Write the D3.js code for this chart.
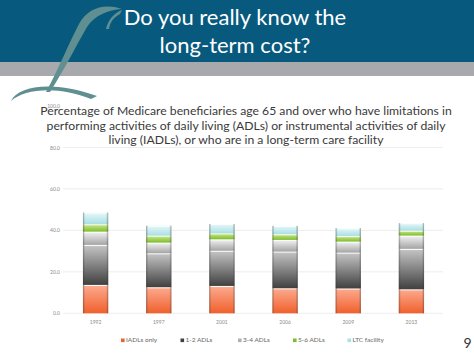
<!DOCTYPE html>
<html><head><meta charset="utf-8">
<script src="https://cdnjs.cloudflare.com/ajax/libs/d3/7.8.5/d3.min.js"></script>
<style>html,body{margin:0;padding:0;background:#fff;overflow:hidden}svg{display:block}</style>
</head><body>
<script>
const years = ["1992","1997","2001","2006","2009","2013"];
const seriesNames = ["IADLs only","1-2 ADLs","3-4 ADLs","5-6 ADLs","LTC facility"];
const iadlsOnly = [13.7,12.6,13.2,12.1,12.0,11.6];
const adl12 = [19.3,16.4,17.0,17.7,17.3,19.5];
const adl34 = [6.4,5.1,5.5,5.6,5.3,6.4];
const adl56 = [3.6,3.4,2.9,2.8,2.7,2.4];
const ltc = [5.6,4.8,4.5,4.0,3.8,3.6];
const yTicks = [0,20,40,60,80,100];
const titleLines = ["Do you really know the","long-term cost?"];
const subtitleLines = ["Percentage of Medicare beneficiaries age 65 and over who have limitations in",
  "performing activities of daily living (ADLs) or instrumental activities of daily",
  "living (IADLs), or who are in a long-term care facility"];

const W=474,H=355;
const svg=d3.select("body").append("svg").attr("width",W).attr("height",H);
const defs=svg.append("defs");
const grads=[["#fcab90","#f0602c"],["#c6c6c6","#404040"],["#f4f4f4","#a4a4a4"],["#cdea93","#7dbd2c"],["#e6f8f9","#a9dfe5"]];
grads.forEach((g,i)=>{
  const lg=defs.append("linearGradient").attr("id","g"+i).attr("x1",0).attr("y1",0).attr("x2",0).attr("y2",1);
  lg.append("stop").attr("offset","0%").attr("stop-color",g[0]);
  lg.append("stop").attr("offset","100%").attr("stop-color",g[1]);
});
const side=defs.append("linearGradient").attr("id","side").attr("x1",0).attr("y1",0).attr("x2",1).attr("y2",0);
[[0,0.45],[0.08,0],[0.92,0],[1,0.45]].forEach(s=>side.append("stop").attr("offset",s[0]).attr("stop-color","#333").attr("stop-opacity",s[1]));

// header
svg.append("rect").attr("x",0).attr("y",0).attr("width",W).attr("height",62).attr("fill","#075a7d");
svg.append("rect").attr("x",0).attr("y",62).attr("width",W).attr("height",14).attr("fill","#a7a9ac");
// swirl (decorative script L)
const sw="#5f8f91";
svg.append("path").attr("d","M122,9 C104,3 88,8 79,24 C69,43 58,70 46,92 L50,92 C63,72 76,46 87,27 C95,15 108,10 122,9 Z").attr("fill",sw);
svg.append("path").attr("d","M106,29 C108,20 114,13 122,10 L120,14 C114,17 110,22 109,29 Z").attr("fill",sw);
svg.append("path").attr("d","M11,101 C18,86 52,80 97,96 L91,99 C60,86 25,88 11,101 Z").attr("fill",sw);
svg.selectAll("text.title").data(titleLines).join("text").attr("class","title")
  .attr("x",235).attr("y",(d,i)=>25+i*28).attr("text-anchor","middle")
  .attr("fill","#fff").attr("font-family","Lato, sans-serif").attr("font-size",22).text(d=>d);

// chart
const x=d3.scaleBand().domain(years).range([64,443]).paddingInner(0.6).paddingOuter(0.3);
const y=d3.scaleLinear().domain([0,100]).range([313.3,106]);
const g=svg.append("g");
g.selectAll("line.grid").data(yTicks.filter(t=>t<100)).join("line")
  .attr("x1",63).attr("x2",443).attr("y1",d=>y(d)).attr("y2",d=>y(d)).attr("stroke","#e8e8e8").attr("stroke-width",0.8);
const yAxis=d3.axisLeft(y).tickValues(yTicks).tickFormat(d3.format(".1f")).tickSize(0).tickPadding(0);
const ya=g.append("g").attr("transform","translate(60,0)").call(yAxis);
ya.select(".domain").remove();
ya.selectAll("text").attr("fill","#8a8a8a").attr("font-size",5).attr("font-family","Lato, sans-serif");
const xAxis=d3.axisBottom(x).tickSize(0).tickPadding(0);
const xa=g.append("g").attr("transform","translate(0,320)").call(xAxis);
xa.select(".domain").remove();
xa.selectAll("text").attr("fill","#8a8a8a").attr("font-size",5).attr("font-family","Lato, sans-serif");

const table=years.map((yr,i)=>({year:yr,"IADLs only":iadlsOnly[i],"1-2 ADLs":adl12[i],"3-4 ADLs":adl34[i],"5-6 ADLs":adl56[i],"LTC facility":ltc[i]}));
const stack=d3.stack().keys(seriesNames)(table);
stack.forEach((s,si)=>{
  const gs=g.append("g");
  gs.selectAll("rect").data(s).join("rect")
    .attr("x",d=>x(d.data.year)).attr("width",x.bandwidth())
    .attr("y",d=>y(d[1])).attr("height",d=>y(d[0])-y(d[1])).attr("fill","url(#g"+si+")");
  gs.selectAll("line").data(s).join("line")
    .attr("x1",d=>x(d.data.year)+1).attr("x2",d=>x(d.data.year)+x.bandwidth()-1)
    .attr("y1",d=>y(d[1])+0.6).attr("y2",d=>y(d[1])+0.6).attr("stroke","#fff").attr("stroke-width",1.1).attr("opacity",0.9);
});
const total=d=>seriesNames.reduce((a,k)=>a+d[k],0);
g.selectAll("rect.side").data(table).join("rect").attr("class","side")
  .attr("x",d=>x(d.year)).attr("width",x.bandwidth())
  .attr("y",d=>y(total(d))).attr("height",d=>y(0)-y(total(d)))
  .attr("fill","url(#side)");

// subtitle (one text block, three lines)
const sub=svg.append("text").attr("text-anchor","middle")
  .attr("fill","#3a3a3a").attr("font-family","Lato, sans-serif").attr("font-size",12.2);
sub.selectAll("tspan").data(subtitleLines).join("tspan")
  .attr("x",246).attr("y",(d,i)=>115+i*14.7).text(d=>d);

// legend
const legX=[123,182.5,240,295,349.5];
const lcol=["#f0602c","#404040","#b0b0b0","#7dbd2c","#a9dfe5"];
const lg=svg.append("g");
seriesNames.forEach((n,i)=>{
  lg.append("rect").attr("x",legX[i]-2).attr("y",338.5).attr("width",3.6).attr("height",3.6).attr("fill",lcol[i]);
  lg.append("text").attr("x",legX[i]+3).attr("y",342.3).attr("fill","#666").attr("font-size",6.5).attr("font-family","Lato, sans-serif").text(n);
});
svg.append("text").attr("x",467.5).attr("y",348).attr("text-anchor","middle").attr("fill","#333").attr("font-family","Lato, sans-serif").attr("font-size",14).text("9");
</script>
</body></html>
